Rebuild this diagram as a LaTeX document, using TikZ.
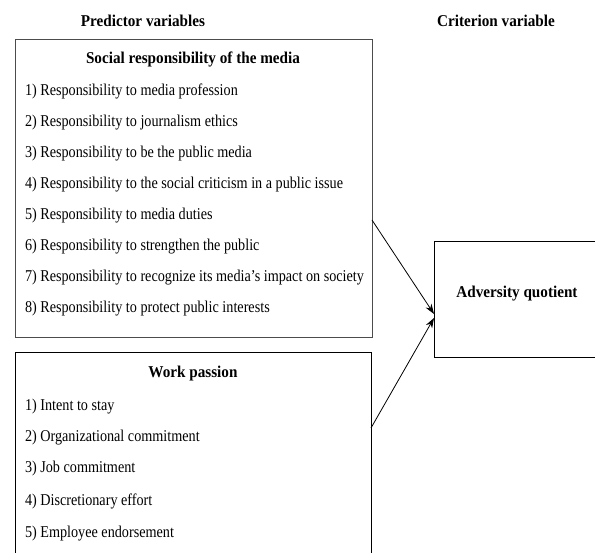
\documentclass[tikz,border=0pt]{standalone}
\usepackage{fontspec}
\setmainfont{Liberation Serif}[FakeStretch=0.86,BoldFeatures={FakeStretch=0.92}]
\usetikzlibrary{arrows.meta}
\begin{document}
\begin{tikzpicture}[x=1pt,y=-1pt,
  every node/.style={inner sep=0pt,outer sep=0pt},
  txt/.style={anchor=base west,font=\fontsize{16.5}{19}\selectfont},
  ttl/.style={anchor=base,font=\fontsize{16.5}{19}\selectfont\bfseries},
  box/.style={draw,line width=1pt,anchor=north west},
  arr/.style={line width=0.8pt,-{Stealth[length=10pt,width=7pt]}}]
\useasboundingbox (0,0) rectangle (595,553);
% boxes
\node[box,draw=black!70,minimum width=357,minimum height=298] (sr) at (15,40) {};
\node[box,minimum width=356,minimum height=240] (wp) at (15,353) {};
\node[box,minimum width=200,minimum height=116] (aq) at (434,242) {};
% headings
\node[ttl] (pv) at (143,27) {Predictor variables};
\node[ttl] (cv) at (496,27) {Criterion variable};
% social responsibility
\node[ttl] (srt) at (193,64) {Social responsibility of the media};
\node[txt] (s1) at (25,96) {1) Responsibility to media profession};
\node[txt] (s2) at (25,127) {2) Responsibility to journalism ethics};
\node[txt] (s3) at (25,158) {3) Responsibility to be the public media};
\node[txt] (s4) at (25,189) {4) Responsibility to the social criticism in a public issue};
\node[txt] (s5) at (25,220) {5) Responsibility to media duties};
\node[txt] (s6) at (25,251) {6) Responsibility to strengthen the public};
\node[txt] (s7) at (25,282) {7) Responsibility to recognize its media’s impact on society};
\node[txt] (s8) at (25,313) {8) Responsibility to protect public interests};
% work passion
\node[ttl] (wpt) at (193,378) {Work passion};
\node[txt] (w1) at (25,411) {1) Intent to stay};
\node[txt] (w2) at (25,442) {2) Organizational commitment};
\node[txt] (w3) at (25,473) {3) Job commitment};
\node[txt] (w4) at (25,505) {4) Discretionary effort};
\node[txt] (w5) at (25,537) {5) Employee endorsement};
% criterion
\node[ttl] (aqt) at (517,298) {Adversity quotient};
% arrows
\draw[arr] ([yshift=-31pt]sr.east) -- ([yshift=-14pt]aq.west);
\draw[arr] ([yshift=45pt]wp.east) -- ([yshift=-18pt]aq.west);
\end{tikzpicture}
\end{document}
